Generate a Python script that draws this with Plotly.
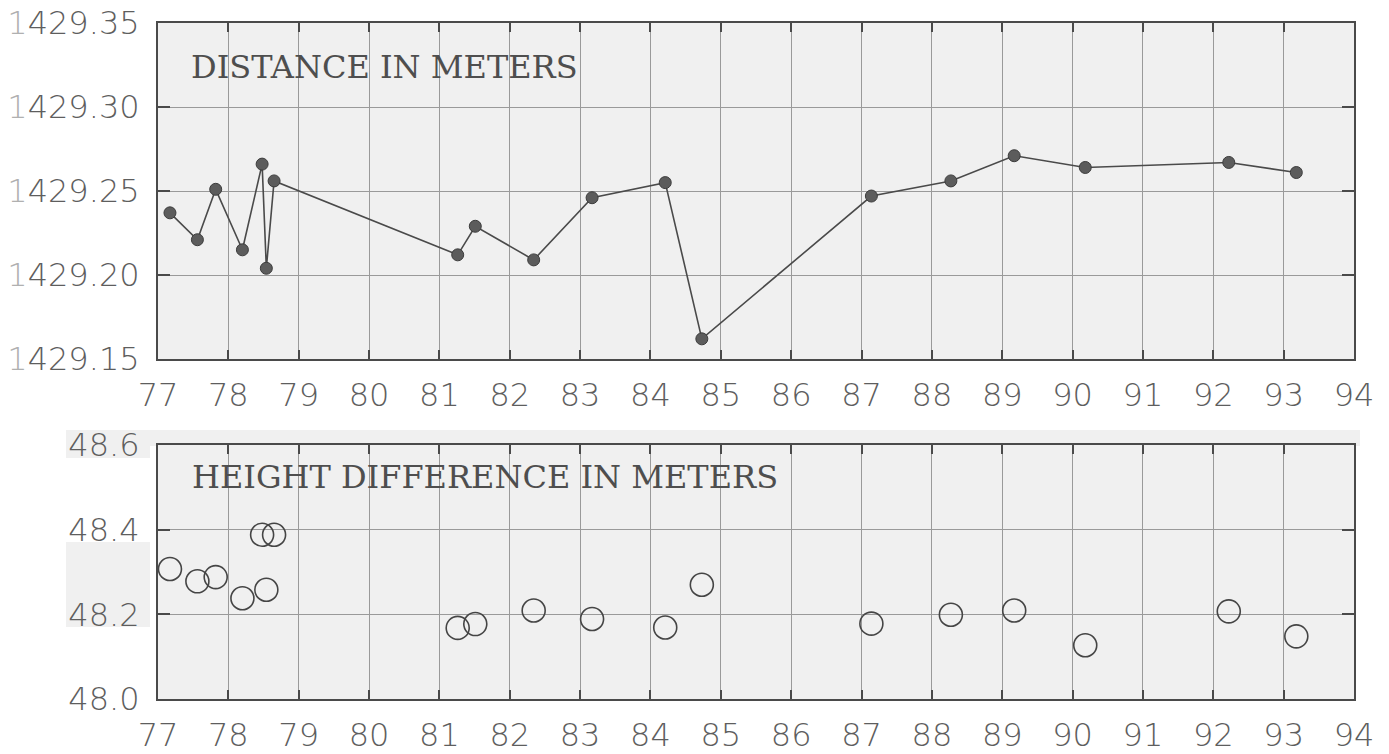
import plotly.graph_objects as go

# Observation epochs (decimal years, 19xx)
epochs = [77.17, 77.56, 77.82, 78.20, 78.48, 78.54, 78.65, 81.26, 81.51,
          82.34, 83.17, 84.21, 84.73, 87.14, 88.27, 89.17, 90.18, 92.22, 93.18]

# Measured slope distance (m)
distance_m = [1429.237, 1429.221, 1429.251, 1429.215, 1429.266, 1429.204,
              1429.256, 1429.212, 1429.229, 1429.209, 1429.246, 1429.255,
              1429.162, 1429.247, 1429.256, 1429.271, 1429.264, 1429.267,
              1429.261]

# Height difference (m)
height_diff_m = [48.307, 48.278, 48.288, 48.238, 48.388, 48.258, 48.388,
                 48.168, 48.177, 48.209, 48.189, 48.169, 48.270, 48.178,
                 48.199, 48.209, 48.127, 48.207, 48.148]

year_ticks = list(range(77, 95))
dist_ticks = [1429.15, 1429.20, 1429.25, 1429.30, 1429.35]
dist_ticktext = ["<span style='color:#b0b0b0'>1</span>429.15",
                 "<span style='color:#b0b0b0'>1</span>429.20",
                 "<span style='color:#b0b0b0'>1</span>429.25",
                 "<span style='color:#b0b0b0'>1</span>429.30",
                 "<span style='color:#b0b0b0'>1</span>429.35"]
height_ticks = [48.0, 48.2, 48.4, 48.6]
height_ticktext = ["48.0", "48.2", "48.4", "48.6"]

panel_titles = ["DISTANCE IN METERS", "HEIGHT DIFFERENCE IN METERS"]

W, H = 1389, 754
tick_font = dict(family="DejaVu Sans", size=32, color="#5e5e5e", weight=200)
title_font = dict(family="DejaVu Serif", size=32, color="#4e4e4e")

fig = go.Figure()

fig.add_trace(go.Scatter(
    x=epochs, y=distance_m, mode="lines+markers",
    line=dict(color="#4a4a4a", width=1.6),
    marker=dict(size=12, color="#5c5c5c", line=dict(color="#3c3c3c", width=1)),
    xaxis="x", yaxis="y", showlegend=False, hoverinfo="x+y",
))

fig.add_trace(go.Scatter(
    x=epochs, y=height_diff_m, mode="markers",
    marker=dict(symbol="circle-open", size=23, color="#454545",
                line=dict(color="#454545", width=1.6)),
    xaxis="x2", yaxis="y2", showlegend=False, hoverinfo="x+y",
))

x_dom = [158 / W, 1354 / W]
top_dom = [1 - 359 / H, 1 - 23 / H]
bot_dom = [1 - 699 / H, 1 - 445 / H]


def px_rect(x0, x1, y0, y1):
    """Light grey paper-tone rectangle given in pixel coordinates."""
    return dict(type="rect", xref="paper", yref="paper", layer="below",
                x0=x0 / W, x1=x1 / W, y0=1 - y1 / H, y1=1 - y0 / H,
                fillcolor="#f0f0f0", line=dict(width=0))


# Grey toned areas of the lower panel's label column and top band
tone_shapes = [px_rect(66, 1360, 430, 446), px_rect(66, 150, 445, 458),
               px_rect(66, 150, 542, 627)]

common_x = dict(
    range=[77, 94], tickvals=year_ticks, ticktext=[str(t) for t in year_ticks],
    showgrid=True, gridcolor="#9a9a9a", gridwidth=1,
    showline=True, linecolor="#4a4a4a", linewidth=2, mirror="ticks",
    ticks="inside", ticklen=9, tickwidth=2, tickcolor="#4a4a4a",
    tickfont=tick_font, ticklabelstandoff=7, zeroline=False,
    domain=x_dom, automargin=False, fixedrange=True,
)
common_y = dict(
    showgrid=True, gridcolor="#9a9a9a", gridwidth=1,
    showline=True, linecolor="#4a4a4a", linewidth=2, mirror="ticks",
    ticks="inside", ticklen=12, tickwidth=2, tickcolor="#4a4a4a",
    tickfont=tick_font, ticklabelstandoff=10, zeroline=False,
    automargin=False, fixedrange=True,
)

fig.update_layout(
    width=W, height=H,
    margin=dict(l=0, r=0, t=0, b=0),
    paper_bgcolor="white", plot_bgcolor="#f0f0f0",
    xaxis=dict(common_x, anchor="y"),
    yaxis=dict(common_y, range=[1429.15, 1429.35], tickvals=dist_ticks,
               ticktext=dist_ticktext, domain=top_dom, anchor="x"),
    xaxis2=dict(common_x, anchor="y2"),
    yaxis2=dict(common_y, range=[48.0, 48.6], tickvals=height_ticks,
                ticktext=height_ticktext, domain=bot_dom, anchor="x2"),
    shapes=tone_shapes,
    annotations=[
        dict(text=panel_titles[0], xref="x domain", yref="y domain",
             x=0.026, y=0.869, xanchor="left", yanchor="middle",
             showarrow=False, font=title_font),
        dict(text=panel_titles[1], xref="x2 domain", yref="y2 domain",
             x=0.027, y=0.874, xanchor="left", yanchor="middle",
             showarrow=False, font=title_font),
    ],
)

fig.write_html("out.html", config={"displayModeBar": False})
